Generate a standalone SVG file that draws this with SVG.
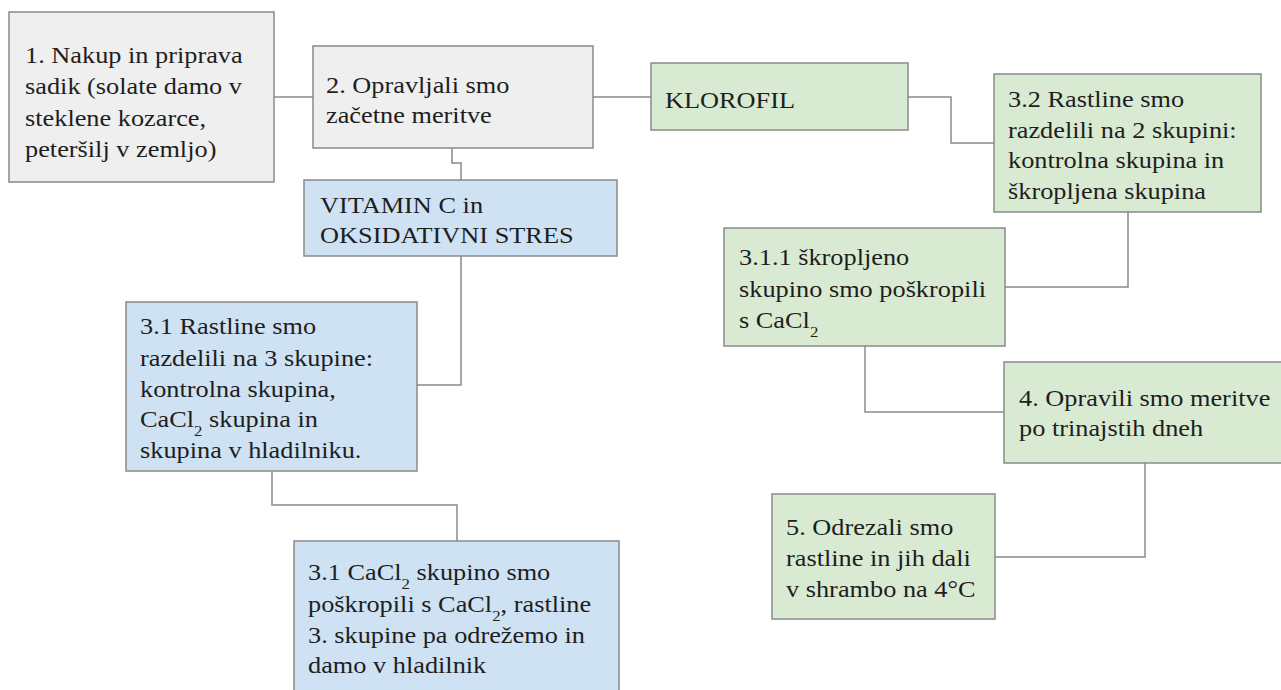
<svg xmlns="http://www.w3.org/2000/svg" width="1281" height="690" viewBox="0 0 1281 690">
<style>
  .box { stroke: #8a8a8a; stroke-width: 1.5; }
  .gray { fill: #efefef; }
  .blue { fill: #cfe2f3; }
  .green { fill: #d9ead3; }
  .t { font-family: 'Liberation Serif', 'Times New Roman', serif; font-size: 23.5px; fill: #1e1e1e; }
  .sub { font-size: 15px; }
  .conn { fill: none; stroke: #8a8a8a; stroke-width: 1.5; }
</style>
<rect width="1281" height="690" fill="#ffffff"/>

<g id="connectors">
  <path class="conn" d="M274,97 H313"/>
  <path class="conn" d="M593,97 H651"/>
  <path class="conn" d="M452,148 V163 H461 V180"/>
  <path class="conn" d="M908,97 H951 V143 H994"/>
  <path class="conn" d="M1128,212 V287 H1005"/>
  <path class="conn" d="M461,256 V385 H417"/>
  <path class="conn" d="M272,471 V505 H457 V541"/>
  <path class="conn" d="M865,346 V412 H1004"/>
  <path class="conn" d="M1145,463 V557 H995"/>
</g>

<g id="node1">
  <rect class="box gray" x="9" y="12" width="265" height="170"/>
  <text class="t" transform="translate(25,0) scale(1.12,1)">
    <tspan x="0" y="63">1. Nakup in priprava</tspan>
    <tspan x="0" y="94">sadik (solate damo v</tspan>
    <tspan x="0" y="126">steklene kozarce,</tspan>
    <tspan x="0" y="157">peteršilj v zemljo)</tspan>
  </text>
</g>

<g id="node2">
  <rect class="box gray" x="313" y="46" width="280" height="102"/>
  <text class="t" transform="translate(326,0) scale(1.12,1)">
    <tspan x="0" y="93">2. Opravljali smo</tspan>
    <tspan x="0" y="123">začetne meritve</tspan>
  </text>
</g>

<g id="node-klorofil">
  <rect class="box green" x="651" y="63" width="257" height="67"/>
  <text class="t" transform="translate(665,0) scale(1.12,1)">
    <tspan x="0" y="108">KLOROFIL</tspan>
  </text>
</g>

<g id="node-vitamin">
  <rect class="box blue" x="304" y="180" width="313" height="76"/>
  <text class="t" transform="translate(320,0) scale(1.12,1)">
    <tspan x="0" y="213">VITAMIN C in</tspan>
    <tspan x="0" y="243">OKSIDATIVNI STRES</tspan>
  </text>
</g>

<g id="node32">
  <rect class="box green" x="994" y="74" width="267" height="138"/>
  <text class="t" transform="translate(1008,0) scale(1.12,1)">
    <tspan x="0" y="107">3.2 Rastline smo</tspan>
    <tspan x="0" y="138">razdelili na 2 skupini:</tspan>
    <tspan x="0" y="168">kontrolna skupina in</tspan>
    <tspan x="0" y="199">škropljena skupina</tspan>
  </text>
</g>

<g id="node311">
  <rect class="box green" x="724" y="228" width="281" height="118"/>
  <text class="t" transform="translate(739,0) scale(1.12,1)">
    <tspan x="0" y="265">3.1.1 škropljeno</tspan>
    <tspan x="0" y="297">skupino smo poškropili</tspan>
    <tspan x="0" y="328">s CaCl<tspan class="sub" dy="9">2</tspan></tspan>
  </text>
</g>

<g id="node31">
  <rect class="box blue" x="126" y="302" width="291" height="169"/>
  <text class="t" transform="translate(140,0) scale(1.12,1)">
    <tspan x="0" y="334">3.1 Rastline smo</tspan>
    <tspan x="0" y="366">razdelili na 3 skupine:</tspan>
    <tspan x="0" y="397">kontrolna skupina,</tspan>
    <tspan x="0" y="427">CaCl<tspan class="sub" dy="9">2</tspan><tspan dy="-9"> skupina in</tspan></tspan>
    <tspan x="0" y="458">skupina v hladilniku.</tspan>
  </text>
</g>

<g id="node4">
  <rect class="box green" x="1004" y="362" width="290" height="101"/>
  <text class="t" transform="translate(1019,0) scale(1.12,1)">
    <tspan x="0" y="406">4. Opravili smo meritve</tspan>
    <tspan x="0" y="436">po trinajstih dneh</tspan>
  </text>
</g>

<g id="node5">
  <rect class="box green" x="772" y="494" width="223" height="125"/>
  <text class="t" transform="translate(786,0) scale(1.12,1)">
    <tspan x="0" y="535">5. Odrezali smo</tspan>
    <tspan x="0" y="566">rastline in jih dali</tspan>
    <tspan x="0" y="597">v shrambo na 4°C</tspan>
  </text>
</g>

<g id="node31-cacl2">
  <rect class="box blue" x="294" y="541" width="325" height="160"/>
  <text class="t" transform="translate(308,0) scale(1.12,1)">
    <tspan x="0" y="580">3.1 CaCl<tspan class="sub" dy="9">2</tspan><tspan dy="-9"> skupino smo</tspan></tspan>
    <tspan x="0" y="612">poškropili s CaCl<tspan class="sub" dy="9">2</tspan><tspan dy="-9">, rastline</tspan></tspan>
    <tspan x="0" y="643">3. skupine pa odrežemo in</tspan>
    <tspan x="0" y="673">damo v hladilnik</tspan>
  </text>
</g>
</svg>
